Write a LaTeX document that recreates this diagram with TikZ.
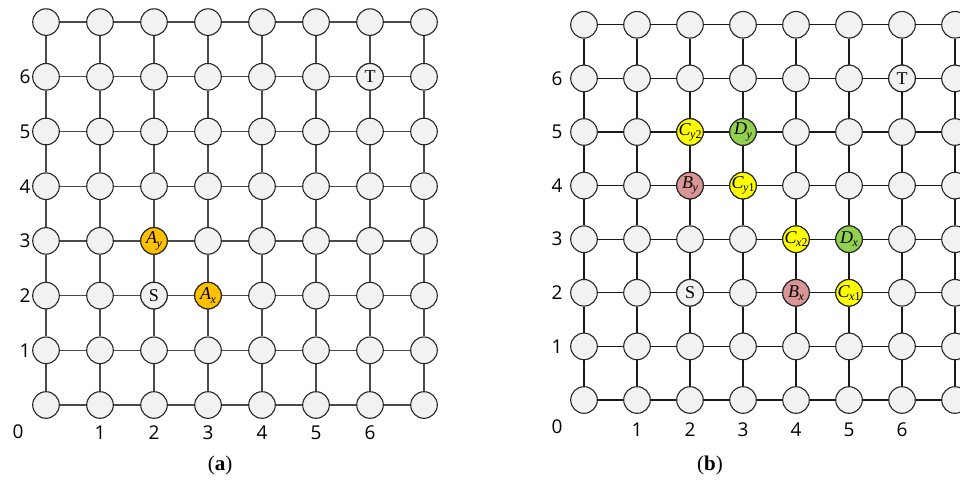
\documentclass[tikz,border=0pt]{standalone}
\usepackage{fontspec}
\setmainfont{Liberation Serif}
\newfontfamily\numfont{Open Sans}
\definecolor{nodegray}{HTML}{F2F2F2}
\definecolor{fillA}{HTML}{FFC000}
\definecolor{fillY}{HTML}{FFFF00}
\definecolor{fillG}{HTML}{92D050}
\definecolor{fillR}{HTML}{D99694}
\definecolor{ledgecol}{HTML}{4A4A4A}
\definecolor{redgecol}{HTML}{1A1A1A}
\newcommand\nsub[2]{\textit{#1}\kern-0.5pt\raisebox{-0.4ex}{\fontsize{12}{12}\selectfont #2}}
\pgfdeclarelayer{bg}
\pgfsetlayers{bg,main}
\begin{document}
\begin{tikzpicture}[x=1pt,y=-1pt,
  gnode/.style={circle,draw=black!85,line width=1.1pt,fill=nodegray,minimum size=26.6pt,inner sep=0pt,font=\fontsize{18}{18}\selectfont},
  ledge/.style={draw=ledgecol,line width=1.2pt},
  redge/.style={draw=redgecol,line width=1.2pt},
  num/.style={font=\numfont\fontsize{19}{19}\selectfont,inner sep=0pt},
  capt/.style={font=\fontsize{21}{21}\selectfont,inner sep=0pt}]
\useasboundingbox (0,0) rectangle (960,484);
% ---------- left panel ----------
\foreach \i in {0,...,7}
  \foreach \j in {0,...,7}
    \node[gnode] (L-\i-\j) at ({46+54*\i},{405-54.7*\j}) {};
\node[gnode] (L-2-2) at ({46+54*2},{405-54.7*2}) {S};
\node[gnode] (L-6-6) at ({46+54*6},{405-54.7*6}) {T};
\node[gnode,fill=fillA] (L-2-3) at ({46+54*2},{405-54.7*3}) {\makebox[0pt]{\nsub{A}{\textit{y}}}};
\node[gnode,fill=fillA] (L-3-2) at ({46+54*3},{405-54.7*2}) {\makebox[0pt]{\nsub{A}{\textit{x}}}};
\begin{pgfonlayer}{bg}
\foreach \i in {0,...,6}
  \foreach \j in {0,...,7} {
    \pgfmathtruncatemacro\k{\i+1}
    \draw[ledge] (L-\i-\j) -- (L-\k-\j);
    \draw[ledge] (L-\j-\i) -- (L-\j-\k);
  }
\end{pgfonlayer}
\foreach \j in {1,...,6}
  \node[num] (Lr\j) at (25,{405-54.7*\j}) {\j};
\foreach \i in {1,...,6}
  \node[num] (Lc\i) at ({46+54*\i},433) {\i};
\node[num] (L0) at (18,432) {0};
\node[capt] (capa) at (220,465) {(\textbf{a})};
% ---------- right panel ----------
\foreach \i in {0,...,7}
  \foreach \j in {0,...,7}
    \node[gnode] (R-\i-\j) at ({584+53*\i},{400-53.6*\j}) {};
\node[gnode] (R-2-2) at ({584+53*2},{400-53.6*2}) {S};
\node[gnode] (R-6-6) at ({584+53*6},{400-53.6*6}) {T};
\node[gnode,fill=fillY] (R-2-5) at ({584+53*2},{400-53.6*5}) {\makebox[0pt]{\nsub{C}{\textit{y}2}}};
\node[gnode,fill=fillG] (R-3-5) at ({584+53*3},{400-53.6*5}) {\makebox[0pt]{\nsub{D}{\textit{y}}}};
\node[gnode,fill=fillR] (R-2-4) at ({584+53*2},{400-53.6*4}) {\makebox[0pt]{\nsub{B}{\textit{y}}}};
\node[gnode,fill=fillY] (R-3-4) at ({584+53*3},{400-53.6*4}) {\makebox[0pt]{\nsub{C}{\textit{y}1}}};
\node[gnode,fill=fillY] (R-4-3) at ({584+53*4},{400-53.6*3}) {\makebox[0pt]{\nsub{C}{\textit{x}2}}};
\node[gnode,fill=fillG] (R-5-3) at ({584+53*5},{400-53.6*3}) {\makebox[0pt]{\nsub{D}{\textit{x}}}};
\node[gnode,fill=fillR] (R-4-2) at ({584+53*4},{400-53.6*2}) {\makebox[0pt]{\nsub{B}{\textit{x}}}};
\node[gnode,fill=fillY] (R-5-2) at ({584+53*5},{400-53.6*2}) {\makebox[0pt]{\nsub{C}{\textit{x}1}}};
\begin{pgfonlayer}{bg}
\foreach \i in {0,...,6}
  \foreach \j in {0,...,7} {
    \pgfmathtruncatemacro\k{\i+1}
    \draw[redge] (R-\i-\j) -- (R-\k-\j);
    \draw[redge] (R-\j-\i) -- (R-\j-\k);
  }
\end{pgfonlayer}
\foreach \j in {1,...,6}
  \node[num] (Rr\j) at (557,{400-53.6*\j}) {\j};
\foreach \i in {1,...,6}
  \node[num] (Rc\i) at ({584+53*\i},430) {\i};
\node[num] (R0) at (557,427) {0};
\node[capt] (capb) at (710,465) {(\textbf{b})};
\end{tikzpicture}
\end{document}
